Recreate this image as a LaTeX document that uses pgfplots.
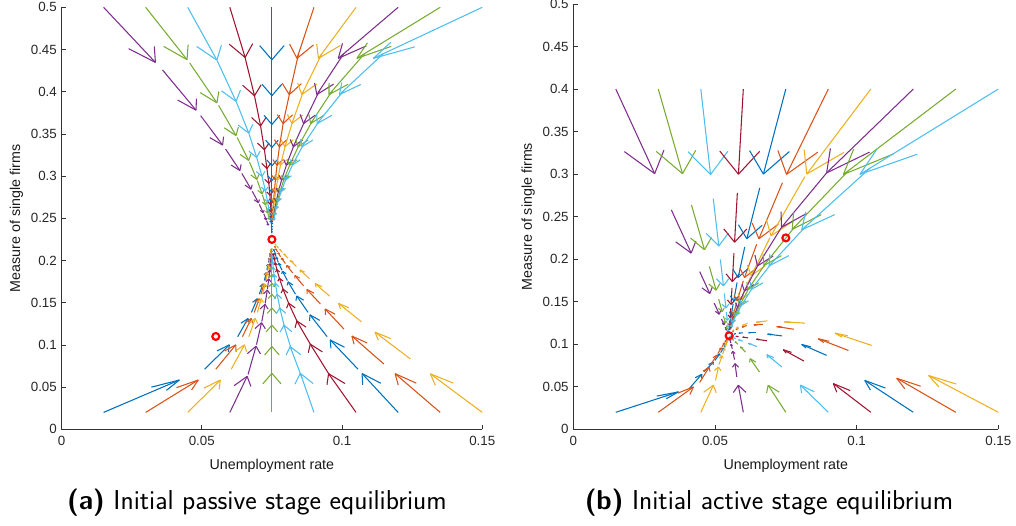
\documentclass[border=0pt]{standalone}
\usepackage{fontspec}
\newfontfamily\arialfont{Liberation Sans}
\usepackage{pgfplots}
\usepackage{pgfplotstable}
\pgfplotsset{compat=1.18}

% MATLAB default colour order
\definecolor{mB}{rgb}{0,0.447,0.741}
\definecolor{mO}{rgb}{0.85,0.325,0.098}
\definecolor{mY}{rgb}{0.929,0.694,0.125}
\definecolor{mP}{rgb}{0.494,0.184,0.556}
\definecolor{mG}{rgb}{0.466,0.674,0.188}
\definecolor{mL}{rgb}{0.301,0.745,0.933}
\definecolor{mR}{rgb}{0.635,0.078,0.184}

% head size (alpha) and head width (beta), as in quiver
\newcommand\ha{0.27}
\newcommand\hb{0.26}
% #1 colour, #2 arrow scale, #3 table (x y nx ny)
\newcommand\traj[3]{%
  \addplot[#1, quiver={u={#2*(\thisrow{nx}-\thisrow{x})}, v={#2*(\thisrow{ny}-\thisrow{y})}}] table {#3};
  \addplot[#1, quiver={u={-\ha*#2*((\thisrow{nx}-\thisrow{x})+\hb*(\thisrow{ny}-\thisrow{y}))},
                       v={-\ha*#2*((\thisrow{ny}-\thisrow{y})-\hb*(\thisrow{nx}-\thisrow{x}))}}]
    table[x expr={\thisrow{x}+#2*(\thisrow{nx}-\thisrow{x})}, y expr={\thisrow{y}+#2*(\thisrow{ny}-\thisrow{y})}] {#3};
  \addplot[#1, quiver={u={-\ha*#2*((\thisrow{nx}-\thisrow{x})-\hb*(\thisrow{ny}-\thisrow{y}))},
                       v={-\ha*#2*((\thisrow{ny}-\thisrow{y})+\hb*(\thisrow{nx}-\thisrow{x}))}}]
    table[x expr={\thisrow{x}+#2*(\thisrow{nx}-\thisrow{x})}, y expr={\thisrow{y}+#2*(\thisrow{ny}-\thisrow{y})}] {#3};
}

%% ---------- (a) passive: top row ----------
\pgfplotstableread{
x y nx ny
0.015 0.5 0.036 0.4258
0.036 0.4258 0.0496 0.3716
0.0496 0.3716 0.0585 0.332
0.0585 0.332 0.0643 0.3031
0.0643 0.3031 0.068 0.282
0.068 0.282 0.0705 0.2666
0.0705 0.2666 0.0721 0.2554
0.0721 0.2554 0.0731 0.2472
0.0731 0.2472 0.0738 0.2412
}\atI
\pgfplotstableread{
x y nx ny
0.03 0.5 0.0457 0.434
0.0457 0.434 0.056 0.3838
0.056 0.3838 0.0626 0.3457
0.0626 0.3457 0.067 0.3168
0.067 0.3168 0.0698 0.2947
0.0698 0.2947 0.0716 0.278
0.0716 0.278 0.0728 0.2653
0.0728 0.2653 0.0736 0.2556
0.0736 0.2556 0.0741 0.2483
}\atII
\pgfplotstableread{
x y nx ny
0.045 0.5 0.0555 0.4368
0.0555 0.4368 0.0623 0.388
0.0623 0.388 0.0668 0.3505
0.0668 0.3505 0.0696 0.3217
0.0696 0.3217 0.0715 0.2994
0.0715 0.2994 0.0727 0.2823
0.0727 0.2823 0.0735 0.2691
0.0735 0.2691 0.074 0.259
0.074 0.259 0.0744 0.2512
0.0744 0.2512 0.0746 0.2451
}\atIII
\pgfplotstableread{
x y nx ny
0.06 0.5 0.0653 0.4423
0.0653 0.4423 0.0687 0.3966
0.0687 0.3966 0.0709 0.3606
0.0709 0.3606 0.0723 0.3321
0.0723 0.3321 0.0732 0.3096
0.0732 0.3096 0.0739 0.2919
0.0739 0.2919 0.0743 0.2778
0.0743 0.2778 0.0745 0.2667
0.0745 0.2667 0.0747 0.258
0.0747 0.258 0.0748 0.251
0.0748 0.251 0.0749 0.2456
}\atIV
\pgfplotstableread{
x y nx ny
0.075 0.5 0.075 0.445
0.075 0.445 0.075 0.401
0.075 0.401 0.075 0.3658
0.075 0.3658 0.075 0.3376
0.075 0.3376 0.075 0.3151
0.075 0.3151 0.075 0.2971
0.075 0.2971 0.075 0.2827
0.075 0.2827 0.075 0.2711
0.075 0.2711 0.075 0.2619
0.075 0.2619 0.075 0.2545
0.075 0.2545 0.075 0.2486
0.075 0.2486 0.075 0.2439
0.075 0.2439 0.075 0.2401
0.075 0.2401 0.075 0.2371
0.075 0.2371 0.075 0.2347
0.075 0.2347 0.075 0.2328
}\atV
\pgfplotstableread{
x y nx ny
0.09 0.5 0.0845 0.445
0.0845 0.445 0.0815 0.401
0.0815 0.401 0.0792 0.3658
0.0792 0.3658 0.0778 0.3376
0.0778 0.3376 0.0769 0.3151
0.0769 0.3151 0.0763 0.2971
0.0763 0.2971 0.0759 0.2827
0.0759 0.2827 0.0756 0.2711
0.0756 0.2711 0.0754 0.2619
0.0754 0.2619 0.0753 0.2545
0.0753 0.2545 0.0752 0.2486
}\atVI
\pgfplotstableread{
x y nx ny
0.105 0.5 0.0928 0.445
0.0928 0.445 0.0863 0.401
0.0863 0.401 0.0825 0.3658
0.0825 0.3658 0.0799 0.3376
0.0799 0.3376 0.0782 0.3151
0.0782 0.3151 0.0771 0.2971
0.0771 0.2971 0.0764 0.2827
0.0764 0.2827 0.0759 0.2711
0.0759 0.2711 0.0756 0.2619
0.0756 0.2619 0.0754 0.2545
0.0754 0.2545 0.0753 0.2486
}\atVII
\pgfplotstableread{
x y nx ny
0.12 0.5 0.1006 0.445
0.1006 0.445 0.0919 0.401
0.0919 0.401 0.0868 0.3658
0.0868 0.3658 0.083 0.3376
0.083 0.3376 0.0804 0.3151
0.0804 0.3151 0.0786 0.2971
0.0786 0.2971 0.0774 0.2827
0.0774 0.2827 0.0766 0.2711
0.0766 0.2711 0.0761 0.2619
0.0761 0.2619 0.0757 0.2545
0.0757 0.2545 0.0755 0.2486
}\atVIII
\pgfplotstableread{
x y nx ny
0.135 0.5 0.108 0.445
0.108 0.445 0.0965 0.401
0.0965 0.401 0.0895 0.3658
0.0895 0.3658 0.0848 0.3376
0.0848 0.3376 0.0816 0.3151
0.0816 0.3151 0.0794 0.2971
0.0794 0.2971 0.078 0.2827
0.078 0.2827 0.077 0.2711
0.077 0.2711 0.0763 0.2619
0.0763 0.2619 0.0759 0.2545
0.0759 0.2545 0.0756 0.2486
}\atIX
\pgfplotstableread{
x y nx ny
0.15 0.5 0.1147 0.445
0.1147 0.445 0.1005 0.401
0.1005 0.401 0.092 0.3658
0.092 0.3658 0.0863 0.3376
0.0863 0.3376 0.0826 0.3151
0.0826 0.3151 0.0801 0.2971
0.0801 0.2971 0.0784 0.2827
0.0784 0.2827 0.0773 0.2711
0.0773 0.2711 0.0765 0.2619
0.0765 0.2619 0.076 0.2545
0.076 0.2545 0.0757 0.2486
}\atX

%% ---------- (a) passive: bottom row ----------
\pgfplotstableread{
x y nx ny
0.015 0.02 0.051 0.0712
0.051 0.0712 0.0628 0.1097
0.0628 0.1097 0.0677 0.1385
0.0677 0.1385 0.0705 0.1601
0.0705 0.1601 0.0723 0.1763
0.0723 0.1763 0.0732 0.1885
0.0732 0.1885 0.0738 0.1976
0.0738 0.1976 0.0742 0.2045
0.0742 0.2045 0.0745 0.2096
0.0745 0.2096 0.0747 0.2134
}\abI
\pgfplotstableread{
x y nx ny
0.03 0.02 0.055 0.0712
0.055 0.0712 0.0645 0.1097
0.0645 0.1097 0.0687 0.1385
0.0687 0.1385 0.0711 0.1601
0.0711 0.1601 0.0726 0.1763
0.0726 0.1763 0.0734 0.1885
0.0734 0.1885 0.074 0.1976
0.074 0.1976 0.0743 0.2045
0.0743 0.2045 0.0746 0.2096
0.0746 0.2096 0.0747 0.2134
}\abII
\pgfplotstableread{
x y nx ny
0.045 0.02 0.0605 0.0712
0.0605 0.0712 0.0668 0.1097
0.0668 0.1097 0.0698 0.1385
0.0698 0.1385 0.0717 0.1601
0.0717 0.1601 0.0729 0.1763
0.0729 0.1763 0.0736 0.1885
0.0736 0.1885 0.0741 0.1976
0.0741 0.1976 0.0744 0.2045
0.0744 0.2045 0.0746 0.2096
0.0746 0.2096 0.0747 0.2134
}\abIII
\pgfplotstableread{
x y nx ny
0.06 0.02 0.0665 0.065
0.0665 0.065 0.0695 0.1002
0.0695 0.1002 0.0714 0.1277
0.0714 0.1277 0.0726 0.1491
0.0726 0.1491 0.0734 0.1658
0.0734 0.1658 0.0739 0.1788
0.0739 0.1788 0.0743 0.189
0.0743 0.189 0.0745 0.1969
0.0745 0.1969 0.0747 0.2031
0.0747 0.2031 0.0748 0.2079
}\abIV
\pgfplotstableread{
x y nx ny
0.075 0.02 0.075 0.061
0.075 0.061 0.075 0.0938
0.075 0.0938 0.075 0.12
0.075 0.12 0.075 0.141
0.075 0.141 0.075 0.1578
0.075 0.1578 0.075 0.1713
0.075 0.1713 0.075 0.182
0.075 0.182 0.075 0.1906
0.075 0.1906 0.075 0.1975
0.075 0.1975 0.075 0.203
0.075 0.203 0.075 0.2074
0.075 0.2074 0.075 0.2109
0.075 0.2109 0.075 0.2137
}\abV
\pgfplotstableread{
x y nx ny
0.09 0.02 0.0857 0.061
0.0857 0.061 0.082 0.0938
0.082 0.0938 0.0796 0.12
0.0796 0.12 0.078 0.141
0.078 0.141 0.077 0.1578
0.077 0.1578 0.0763 0.1713
0.0763 0.1713 0.0758 0.182
0.0758 0.182 0.0755 0.1906
0.0755 0.1906 0.0753 0.1975
0.0753 0.1975 0.0752 0.203
0.0752 0.203 0.0751 0.2074
}\abVI
\pgfplotstableread{
x y nx ny
0.105 0.02 0.0954 0.065
0.0954 0.065 0.0888 0.1002
0.0888 0.1002 0.084 0.1277
0.084 0.1277 0.081 0.1491
0.081 0.1491 0.079 0.1658
0.079 0.1658 0.0777 0.1788
0.0777 0.1788 0.0768 0.189
0.0768 0.189 0.0762 0.1969
0.0762 0.1969 0.0758 0.2031
0.0758 0.2031 0.0755 0.2079
}\abVII
\pgfplotstableread{
x y nx ny
0.12 0.02 0.1057 0.0712
0.1057 0.0712 0.0947 0.1097
0.0947 0.1097 0.0879 0.1385
0.0879 0.1385 0.0834 0.1601
0.0834 0.1601 0.0805 0.1763
0.0805 0.1763 0.0786 0.1885
0.0786 0.1885 0.0773 0.1976
0.0773 0.1976 0.0765 0.2045
0.0765 0.2045 0.076 0.2096
0.076 0.2096 0.0756 0.2134
}\abVIII
\pgfplotstableread{
x y nx ny
0.135 0.02 0.1149 0.0774
0.1149 0.0774 0.1007 0.1187
0.1007 0.1187 0.0923 0.1485
0.0923 0.1485 0.0863 0.1699
0.0863 0.1699 0.0824 0.1853
0.0824 0.1853 0.0798 0.1964
0.0798 0.1964 0.0781 0.2044
0.0781 0.2044 0.077 0.2102
0.077 0.2102 0.0763 0.2143
0.0763 0.2143 0.0759 0.2173
}\abIX
\pgfplotstableread{
x y nx ny
0.15 0.02 0.1243 0.0835
0.1243 0.0835 0.1069 0.1274
0.1069 0.1274 0.0956 0.1577
0.0956 0.1577 0.0884 0.1785
0.0884 0.1785 0.0837 0.1929
0.0837 0.1929 0.0807 0.2029
0.0807 0.2029 0.0787 0.2097
0.0787 0.2097 0.0774 0.2145
0.0774 0.2145 0.0766 0.2177
0.0766 0.2177 0.076 0.22
}\abX

%% ---------- (b) active: top row ----------
\pgfplotstableread{
x y nx ny
0.015 0.4 0.0346 0.2579
0.0346 0.2579 0.0446 0.1854
0.0446 0.1854 0.0497 0.1485
0.0497 0.1485 0.0523 0.1296
0.0523 0.1296 0.0536 0.12
0.0536 0.12 0.0543 0.1151
0.0543 0.1151 0.0546 0.1126
}\btI
\pgfplotstableread{
x y nx ny
0.03 0.4 0.0417 0.2637
0.0417 0.2637 0.048 0.1915
0.048 0.1915 0.0513 0.1532
0.0513 0.1532 0.053 0.1329
0.053 0.1329 0.054 0.1221
0.054 0.1221 0.0544 0.1164
0.0544 0.1164 0.0547 0.1134
}\btII
\pgfplotstableread{
x y nx ny
0.045 0.4 0.0494 0.2712
0.0494 0.2712 0.0519 0.1997
0.0519 0.1997 0.0533 0.1598
0.0533 0.1598 0.054 0.1377
0.054 0.1377 0.0545 0.1254
0.0545 0.1254 0.0547 0.1186
0.0547 0.1186 0.0548 0.1148
}\btIII
\pgfplotstableread{
x y nx ny
0.06 0.4 0.0579 0.2779
0.0579 0.2779 0.0567 0.2072
0.0567 0.2072 0.056 0.1663
0.056 0.1663 0.0556 0.1426
0.0556 0.1426 0.0553 0.1289
0.0553 0.1289 0.0552 0.1209
0.0552 0.1209 0.0551 0.1163
}\btIV
\pgfplotstableread{
x y nx ny
0.075 0.4 0.0658 0.2838
0.0658 0.2838 0.0605 0.2143
0.0605 0.2143 0.0578 0.1726
0.0578 0.1726 0.0564 0.1475
0.0564 0.1475 0.0557 0.1325
0.0557 0.1325 0.0554 0.1235
0.0554 0.1235 0.0552 0.1181
}\btV
\pgfplotstableread{
x y nx ny
0.09 0.4 0.0738 0.2898
0.0738 0.2898 0.0647 0.2175
0.0647 0.2175 0.06 0.1745
0.06 0.1745 0.0576 0.1487
0.0576 0.1487 0.0564 0.1332
0.0564 0.1332 0.0557 0.1239
0.0557 0.1239 0.0554 0.1183
}\btVI
\pgfplotstableread{
x y nx ny
0.105 0.4 0.0817 0.297
0.0817 0.297 0.0694 0.2253
0.0694 0.2253 0.0626 0.1792
0.0626 0.1792 0.059 0.1515
0.059 0.1515 0.0571 0.1349
0.0571 0.1349 0.0561 0.1249
0.0561 0.1249 0.0556 0.119
}\btVII
\pgfplotstableread{
x y nx ny
0.12 0.4 0.0894 0.3014
0.0894 0.3014 0.0735 0.2375
0.0735 0.2375 0.065 0.192
0.065 0.192 0.0604 0.1625
0.0604 0.1625 0.0579 0.1436
0.0579 0.1436 0.0566 0.1315
0.0566 0.1315 0.0559 0.1238
0.0559 0.1238 0.0555 0.1188
}\btVIII
\pgfplotstableread{
x y nx ny
0.135 0.4 0.0972 0.3043
0.0972 0.3043 0.0782 0.2383
0.0782 0.2383 0.0678 0.1947
0.0678 0.1947 0.062 0.1659
0.062 0.1659 0.0589 0.1469
0.0589 0.1469 0.0571 0.1343
0.0571 0.1343 0.0562 0.126
0.0562 0.126 0.0556 0.1206
}\btIX
\pgfplotstableread{
x y nx ny
0.15 0.4 0.1048 0.3072
0.1048 0.3072 0.0824 0.2398
0.0824 0.2398 0.0701 0.1957
0.0701 0.1957 0.0633 0.1666
0.0633 0.1666 0.0596 0.1473
0.0596 0.1473 0.0575 0.1346
0.0575 0.1346 0.0564 0.1263
0.0564 0.1263 0.0558 0.1207
}\btX

%% ---------- (b) active: bottom row ----------
\pgfplotstableread{
x y nx ny
0.015 0.02 0.041 0.0482
0.041 0.0482 0.0461 0.0676
0.0461 0.0676 0.05 0.081
0.05 0.081 0.052 0.0901
0.052 0.0901 0.0532 0.0964
0.0532 0.0964 0.0539 0.1007
0.0539 0.1007 0.0543 0.1036
0.0543 0.1036 0.0546 0.1056
0.0546 0.1056 0.0548 0.107
}\bbI
\pgfplotstableread{
x y nx ny
0.03 0.02 0.0446 0.0551
0.0446 0.0551 0.0485 0.076
0.0485 0.076 0.051 0.089
0.051 0.089 0.0525 0.097
0.0525 0.097 0.0534 0.102
0.0534 0.102 0.054 0.105
0.054 0.105 0.0544 0.107
0.0544 0.107 0.0547 0.1083
}\bbII
\pgfplotstableread{
x y nx ny
0.045 0.02 0.0502 0.0574
0.0502 0.0574 0.0514 0.0761
0.0514 0.0761 0.0527 0.0881
0.0527 0.0881 0.0535 0.0959
0.0535 0.0959 0.054 0.1009
0.054 0.1009 0.0544 0.1041
0.0544 0.1041 0.0546 0.1062
0.0546 0.1062 0.0548 0.1076
}\bbIII
\pgfplotstableread{
x y nx ny
0.06 0.02 0.0577 0.0616
0.0577 0.0616 0.0569 0.082
0.0569 0.082 0.0561 0.0946
0.0561 0.0946 0.0556 0.1015
0.0556 0.1015 0.0553 0.1053
0.0553 0.1053 0.0552 0.1074
0.0552 0.1074 0.0551 0.1086
}\bbIV
\pgfplotstableread{
x y nx ny
0.075 0.02 0.0657 0.0674
0.0657 0.0674 0.0608 0.0907
0.0608 0.0907 0.0581 0.1
0.0581 0.1 0.0566 0.1045
0.0566 0.1045 0.0558 0.107
0.0558 0.107 0.0554 0.1085
0.0554 0.1085 0.0552 0.1093
}\bbV
\pgfplotstableread{
x y nx ny
0.09 0.02 0.0736 0.0733
0.0736 0.0733 0.0648 0.0973
0.0648 0.0973 0.0598 0.1035
0.0598 0.1035 0.0573 0.1065
0.0573 0.1065 0.0561 0.1082
0.0561 0.1082 0.0555 0.1091
0.0555 0.1091 0.0552 0.1096
}\bbVI
\pgfplotstableread{
x y nx ny
0.105 0.02 0.0814 0.0802
0.0814 0.0802 0.0684 0.104
0.0684 0.104 0.0617 0.1075
0.0617 0.1075 0.0583 0.109
0.0583 0.109 0.0566 0.1095
0.0566 0.1095 0.0558 0.1098
0.0558 0.1098 0.0554 0.1099
}\bbVII
\pgfplotstableread{
x y nx ny
0.12 0.02 0.0894 0.0869
0.0894 0.0869 0.0737 0.1098
0.0737 0.1098 0.0645 0.1135
0.0645 0.1135 0.0598 0.1135
0.0598 0.1135 0.0574 0.1125
0.0574 0.1125 0.0562 0.1115
0.0562 0.1115 0.0556 0.1108
}\bbVIII
\pgfplotstableread{
x y nx ny
0.135 0.02 0.0971 0.0927
0.0971 0.0927 0.0778 0.1176
0.0778 0.1176 0.0669 0.1234
0.0669 0.1234 0.0612 0.122
0.0612 0.122 0.0583 0.1185
0.0583 0.1185 0.0567 0.116
0.0567 0.116 0.0559 0.1138
}\bbIX
\pgfplotstableread{
x y nx ny
0.15 0.02 0.1053 0.0986
0.1053 0.0986 0.0818 0.1248
0.0818 0.1248 0.0685 0.1275
0.0685 0.1275 0.0615 0.1245
0.0615 0.1245 0.0583 0.1205
0.0583 0.1205 0.0567 0.117
0.0567 0.117 0.0559 0.1145
}\bbX

\pgfplotsset{
  phase/.style={
    scale only axis,
    xmin=0, xmax=0.15, ymin=0, ymax=0.5,
    axis lines*=left,
    axis line style={black!80, line width=0.55pt},
    tick align=inside,
    major tick length=3.5pt,
    tick style={black!80, line width=0.55pt},
    xtick={0,0.05,0.1,0.15},
    xticklabels={0,0.05,0.1,0.15},
    ytick={0,0.05,0.1,0.15,0.2,0.25,0.3,0.35,0.4,0.45,0.5},
    yticklabels={0,0.05,0.1,0.15,0.2,0.25,0.3,0.35,0.4,0.45,0.5},
    ticklabel style={font=\arialfont\fontsize{10}{12}\selectfont, text=black!85},
    xticklabel style={yshift=-2pt},
    label style={font=\arialfont\fontsize{10.7}{12}\selectfont, text=black!90},
    xlabel style={yshift=-3pt},
    ylabel style={yshift=-1pt},
    xlabel={Unemployment rate},
    ylabel={Measure of single firms},
    every axis plot/.append style={line width=0.8pt},
  },
  eq/.style={only marks, mark=o, mark size=2.6pt, red, mark options={line width=1.6pt}},
}

\begin{document}
\begin{tikzpicture}
\useasboundingbox (-46.125pt,-71.775pt) rectangle (715.875pt,321.975pt);

\begin{axis}[phase, width=315.6pt, height=316.5pt]
\traj{mB}{0.75}{\abI}
\traj{mO}{0.75}{\abII}
\traj{mY}{0.75}{\abIII}
\traj{mP}{0.95}{\abIV}
\traj{mG}{1.13}{\abV}
\traj{mL}{1.13}{\abVI}
\traj{mR}{1.02}{\abVII}
\traj{mB}{0.9}{\abVIII}
\traj{mO}{0.8}{\abIX}
\traj{mY}{0.72}{\abX}
\traj{mP}{0.88}{\atI}
\traj{mG}{0.94}{\atII}
\traj{mL}{0.99}{\atIII}
\traj{mR}{1.03}{\atIV}
\traj{mB}{1.13}{\atV}
\traj{mO}{1.1}{\atVI}
\traj{mY}{1.1}{\atVII}
\traj{mP}{1.1}{\atVIII}
\traj{mG}{1.1}{\atIX}
\traj{mL}{1.1}{\atX}
\addplot[eq] coordinates {(0.075,0.225) (0.055,0.11)};
\end{axis}

\begin{axis}[phase, at={(383.85pt,0pt)}, width=318.75pt, height=319pt]
\traj{mB}{0.85}{\bbI}
\traj{mO}{0.85}{\bbII}
\traj{mY}{0.85}{\bbIII}
\traj{mP}{0.765}{\bbIV}
\traj{mG}{0.67}{\bbV}
\traj{mL}{0.6}{\bbVI}
\traj{mR}{0.56}{\bbVII}
\traj{mB}{0.56}{\bbVIII}
\traj{mO}{0.55}{\bbIX}
\traj{mY}{0.55}{\bbX}
\traj{mP}{0.70}{\btI}
\traj{mG}{0.73}{\btII}
\traj{mL}{0.78}{\btIII}
\traj{mR}{0.82}{\btIV}
\traj{mB}{0.86}{\btV}
\traj{mO}{0.91}{\btVI}
\traj{mY}{0.97}{\btVII}
\traj{mP}{1.0}{\btVIII}
\traj{mG}{1.05}{\btIX}
\traj{mL}{1.08}{\btX}
\addplot[eq] coordinates {(0.075,0.225) (0.055,0.11)};
\end{axis}

\node[anchor=base, font=\sffamily\fontsize{20.5}{24}\selectfont] at (146.6pt,-60pt) {\textbf{(a)} Initial passive stage equilibrium};
\node[anchor=base, font=\sffamily\fontsize{20.5}{24}\selectfont] at (530.6pt,-60pt) {\textbf{(b)} Initial active stage equilibrium};
\end{tikzpicture}
\end{document}
